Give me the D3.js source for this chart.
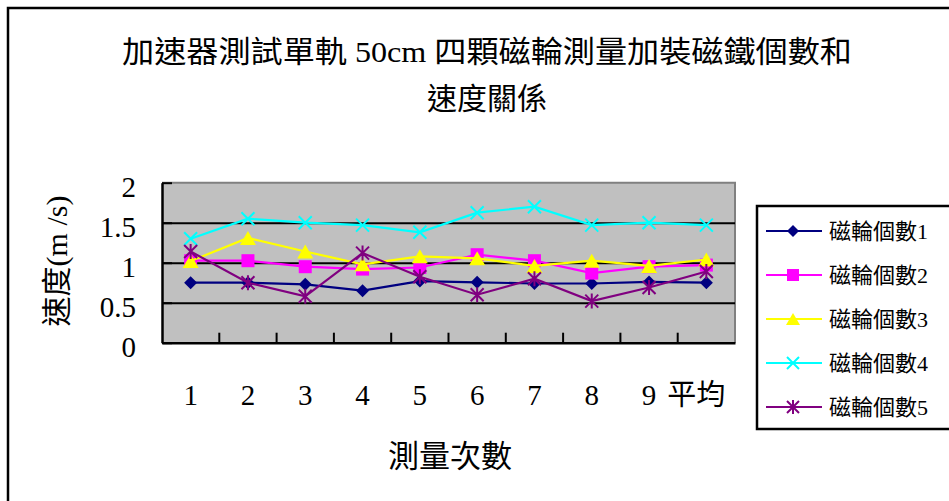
<!DOCTYPE html>
<html>
<head>
<meta charset="utf-8">
<script src="https://cdn.jsdelivr.net/npm/d3@7"></script>
<style>
  body { margin: 0; background: #fff; }
  svg { display: block; }
</style>
</head>
<body>
<svg id="chart" width="949" height="501"></svg>
<script>
// ---- data ----
const categories = ["1", "2", "3", "4", "5", "6", "7", "8", "9", "平均"];
const seriesNames = ["磁輪個數1", "磁輪個數2", "磁輪個數3", "磁輪個數4", "磁輪個數5"];
const wheel1 = [0.75, 0.75, 0.73, 0.65, 0.77, 0.755, 0.74, 0.74, 0.76, 0.75];
const wheel2 = [1.025, 1.025, 0.95, 0.92, 0.94, 1.10, 1.025, 0.87, 0.95, 0.97];
const wheel3 = [1.02, 1.31, 1.14, 0.98, 1.08, 1.055, 0.96, 1.025, 0.96, 1.04];
const wheel4 = [1.30, 1.55, 1.50, 1.47, 1.38, 1.625, 1.70, 1.47, 1.50, 1.47];
const wheel5 = [1.14, 0.75, 0.58, 1.12, 0.825, 0.60, 0.80, 0.52, 0.69, 0.89];
const yTicks = [0, 0.5, 1, 1.5, 2];
const gridValues = [0.5, 1, 1.5];
const titleLines = ["加速器測試單軌 50cm  四顆磁輪測量加裝磁鐵個數和", "速度關係"];
const yTitle = "速度(m /s)";
const xTitle = "測量次數";

// ---- styling ----
const FONT = "'Liberation Serif', 'Noto Sans CJK TC', serif";
const colors = ["#000080", "#ff00ff", "#ffff00", "#00ffff", "#800080"];
const markerKinds = ["diamond", "square", "triangle", "x", "star"];
const seriesValues = [wheel1, wheel2, wheel3, wheel4, wheel5];

const svg = d3.select("#chart");
const plot = { left: 162, right: 735, top: 182.7, bottom: 342.7 };

// outer chart frame (extends past the window on right and bottom)
svg.append("rect")
  .attr("x", 8).attr("y", 8).attr("width", 1000).attr("height", 600)
  .attr("fill", "#fff").attr("stroke", "#000").attr("stroke-width", 2.5);

// title
svg.append("text")
  .attr("x", 487).attr("y", 62)
  .attr("text-anchor", "middle")
  .attr("font-family", FONT).attr("font-size", 30).attr("fill", "#000")
  .attr("textLength", 730).attr("lengthAdjust", "spacingAndGlyphs")
  .text(titleLines[0]);
svg.append("text")
  .attr("x", 487).attr("y", 109)
  .attr("text-anchor", "middle")
  .attr("font-family", FONT).attr("font-size", 30).attr("fill", "#000")
  .text(titleLines[1]);

// scales
const x = d3.scaleBand().domain(categories).range([plot.left, plot.right]).padding(0);
const y = d3.scaleLinear().domain([0, 2]).range([plot.bottom, plot.top]);
const cx = c => x(c) + x.bandwidth() / 2;

// plot area background
svg.append("rect")
  .attr("x", plot.left).attr("y", plot.top)
  .attr("width", plot.right - plot.left).attr("height", plot.bottom - plot.top)
  .attr("fill", "#c0c0c0");

// top and right edges of plot area
svg.append("path")
  .attr("d", `M${plot.left},${plot.top}H${plot.right}V${plot.bottom}`)
  .attr("fill", "none").attr("stroke", "#808080").attr("stroke-width", 2);

// horizontal gridlines
const grid = svg.append("g")
  .attr("transform", `translate(${plot.left},0)`)
  .call(d3.axisLeft(y).tickValues(gridValues).tickSize(-(plot.right - plot.left)).tickFormat(""));
grid.select(".domain").remove();
grid.selectAll(".tick line").attr("stroke", "#000").attr("stroke-width", 2);

// y axis
const yAxis = svg.append("g")
  .attr("transform", `translate(${plot.left},0)`)
  .call(d3.axisLeft(y).tickValues(yTicks).tickSize(-10).tickPadding(26).tickSizeOuter(0).tickFormat(d => String(d)));
yAxis.select(".domain").attr("stroke", "#000").attr("stroke-width", 2.5);
yAxis.selectAll(".tick line").attr("stroke", "#000").attr("stroke-width", 2);
yAxis.selectAll(".tick text")
  .attr("font-family", FONT).attr("font-size", 29).attr("fill", "#000")
  .attr("dy", "0.46em");

// x axis: labels at band centres
const xAxis = svg.append("g")
  .attr("transform", `translate(0,${plot.bottom})`)
  .call(d3.axisBottom(x).tickSize(0).tickSizeOuter(0));
xAxis.select(".domain").attr("stroke", "#000").attr("stroke-width", 2.5);
xAxis.selectAll(".tick text")
  .attr("font-family", FONT).attr("font-size", 29).attr("fill", "#000")
  .attr("y", 62).attr("dy", 0)
  .attr("dx", d => (d === "平均" ? -10 : 0));

// x axis tick marks at category boundaries, pointing into the plot
svg.append("g").selectAll("line")
  .data(categories.slice(1))
  .join("line")
  .attr("x1", d => x(d)).attr("x2", d => x(d))
  .attr("y1", plot.bottom).attr("y2", plot.bottom - 10)
  .attr("stroke", "#000").attr("stroke-width", 2);

// axis titles
svg.append("text")
  .attr("transform", "translate(67,261) rotate(-90)")
  .attr("text-anchor", "middle")
  .attr("font-family", FONT).attr("font-size", 30).attr("fill", "#000")
  .text(yTitle);
svg.append("text")
  .attr("x", 450).attr("y", 467)
  .attr("text-anchor", "middle")
  .attr("font-family", FONT).attr("font-size", 31).attr("fill", "#000")
  .text(xTitle);

// marker drawing
function drawMarker(g, kind, color, s) {
  const h = s / 2;
  if (kind === "diamond") {
    g.append("path").attr("d", `M0,${-h}L${h},0L0,${h}L${-h},0Z`).attr("fill", color);
  } else if (kind === "square") {
    g.append("rect").attr("x", -h).attr("y", -h).attr("width", s).attr("height", s).attr("fill", color);
  } else if (kind === "triangle") {
    g.append("path").attr("d", `M0,${-h}L${h + 1},${h}L${-h - 1},${h}Z`).attr("fill", color);
  } else if (kind === "x") {
    g.append("path").attr("d", `M${-h},${-h}L${h},${h}M${h},${-h}L${-h},${h}`)
      .attr("stroke", color).attr("stroke-width", 2).attr("fill", "none");
  } else if (kind === "star") {
    g.append("path").attr("d", `M${-h},${-h}L${h},${h}M${h},${-h}L${-h},${h}M0,${-h - 1}L0,${h + 1}`)
      .attr("stroke", color).attr("stroke-width", 2).attr("fill", "none");
  }
}

// series lines and markers
const line = d3.line().x((d, i) => cx(categories[i])).y(d => y(d));
const markerSize = [13, 13, 14, 13, 13];
seriesValues.forEach((vals, si) => {
  const g = svg.append("g");
  g.append("path")
    .attr("d", line(vals))
    .attr("fill", "none").attr("stroke", colors[si]).attr("stroke-width", 2.2);
  vals.forEach((v, i) => {
    const m = g.append("g").attr("transform", `translate(${cx(categories[i])},${y(v)})`);
    drawMarker(m, markerKinds[si], colors[si], markerSize[si]);
  });
});

// legend
const legend = svg.append("g");
legend.append("rect")
  .attr("x", 757).attr("y", 206).attr("width", 300).attr("height", 223)
  .attr("fill", "#fff").attr("stroke", "#000").attr("stroke-width", 2.5);
seriesNames.forEach((name, i) => {
  const ly = 231 + i * 44;
  const row = legend.append("g").attr("transform", `translate(0,${ly})`);
  row.append("line").attr("x1", 766).attr("x2", 822).attr("y1", 0).attr("y2", 0)
    .attr("stroke", colors[i]).attr("stroke-width", 2.2);
  const m = row.append("g").attr("transform", "translate(793,0)");
  drawMarker(m, markerKinds[i], colors[i], 12);
  row.append("text")
    .attr("x", 829).attr("y", 0).attr("dy", "0.36em")
    .attr("font-family", FONT).attr("font-size", 22).attr("fill", "#000")
    .text(name);
});
</script>
</body>
</html>
